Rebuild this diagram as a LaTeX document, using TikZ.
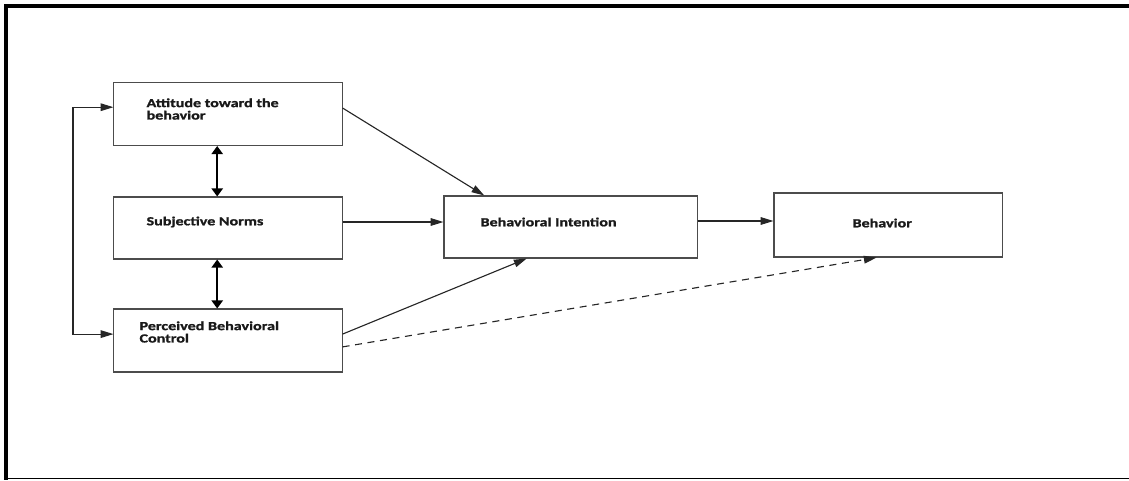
\documentclass[tikz,border=0pt]{standalone}
\usepackage{fontspec}
\usepackage{tikz}
\usetikzlibrary{arrows.meta}
\usetikzlibrary{positioning}
\newfontfamily\boxfont[FakeStretch=1.3,FakeBold=1.2]{Carlito}
\tikzset{
    box/.style = {rectangle, draw=black!70, line width=0.75pt, fill=white, inner sep=0pt},
    boxtxt/.style = {anchor=west, align=left, inner sep=0pt, text=black!90, font=\boxfont\bfseries\fontsize{8.8}{8.8}\selectfont},
}

\begin{document}
\begin{tikzpicture}[
	x=0.025cm,
	y=-0.025cm,
	line width=0.8pt
]
\tikzset{
    arr/.style = {-{Triangle[length=0.32cm,width=0.19cm]}, draw=black!85},
    twoway/.style = {{Triangle[length=0.2cm,width=0.28cm]}-{Triangle[length=0.2cm,width=0.28cm]}, line width=1.2pt},
    dasharr/.style = {arr, dash pattern=on 5pt off 4pt}
}
\useasboundingbox (0,0) rectangle (1129,480);
% frame
\draw[line width=2.8pt] (1129,6) -- (6,6) -- (6,480);
\draw[line width=1pt] (6,478.7) -- (1129,478.7);
%
\node[box, minimum width=5.7cm, minimum height=1.575cm] at (228,114) (att) {};
\node[box, minimum width=5.7cm, minimum height=1.55cm] at (228,228) (sub) {};
\node[box, minimum width=5.7cm, minimum height=1.575cm] at (228,340.5) (pbc) {};
\node[box, minimum width=6.325cm, minimum height=1.55cm] at (570.5,227) (bi) {};
\node[box, minimum width=5.7cm, minimum height=1.6cm] at (888,225) (beh) {};
%
\node[boxtxt] at (146,109) (att-t) {Attitude toward the\\behavior};
\node[boxtxt] at (146,222) (sub-t) {Subjective Norms};
\node[boxtxt] at (139,332) (pbc-t) {Perceived Behavioral\\Control};
\node[boxtxt] at (480,222) (bi-t) {Behavioral Intention};
\node[boxtxt] at (852,223) (beh-t) {Behavior};
%
\coordinate (loop) at (73,220);
\draw[arr] (loop) |- ([yshift=0.17cm]att.west);
\draw[arr] (loop) |- ([yshift=0.16cm]pbc.west);
%
\draw[twoway] ([xshift=-0.27cm]att.south) -- ([xshift=-0.27cm]att.south |- sub.north);
\draw[twoway] ([xshift=-0.27cm]sub.south) -- ([xshift=-0.27cm]sub.south |- pbc.north);
%
\draw[arr] ([yshift=0.15cm]att.east) -- ([xshift=1.02cm]bi.north west);
\draw[arr] ([yshift=0.15cm]sub.east) -- ([yshift=0.15cm]sub.east -| bi.west);
\draw[arr] ([yshift=0.16cm]pbc.east) -- ([xshift=2.08cm]bi.south west);
\draw[arr] ([yshift=0.15cm]bi.east) -- ([yshift=0.15cm]bi.east -| beh.west);
\draw[dasharr] ([yshift=-0.16cm]pbc.east) -- ([xshift=2.58cm]beh.south west);
\end{tikzpicture}
\end{document}
